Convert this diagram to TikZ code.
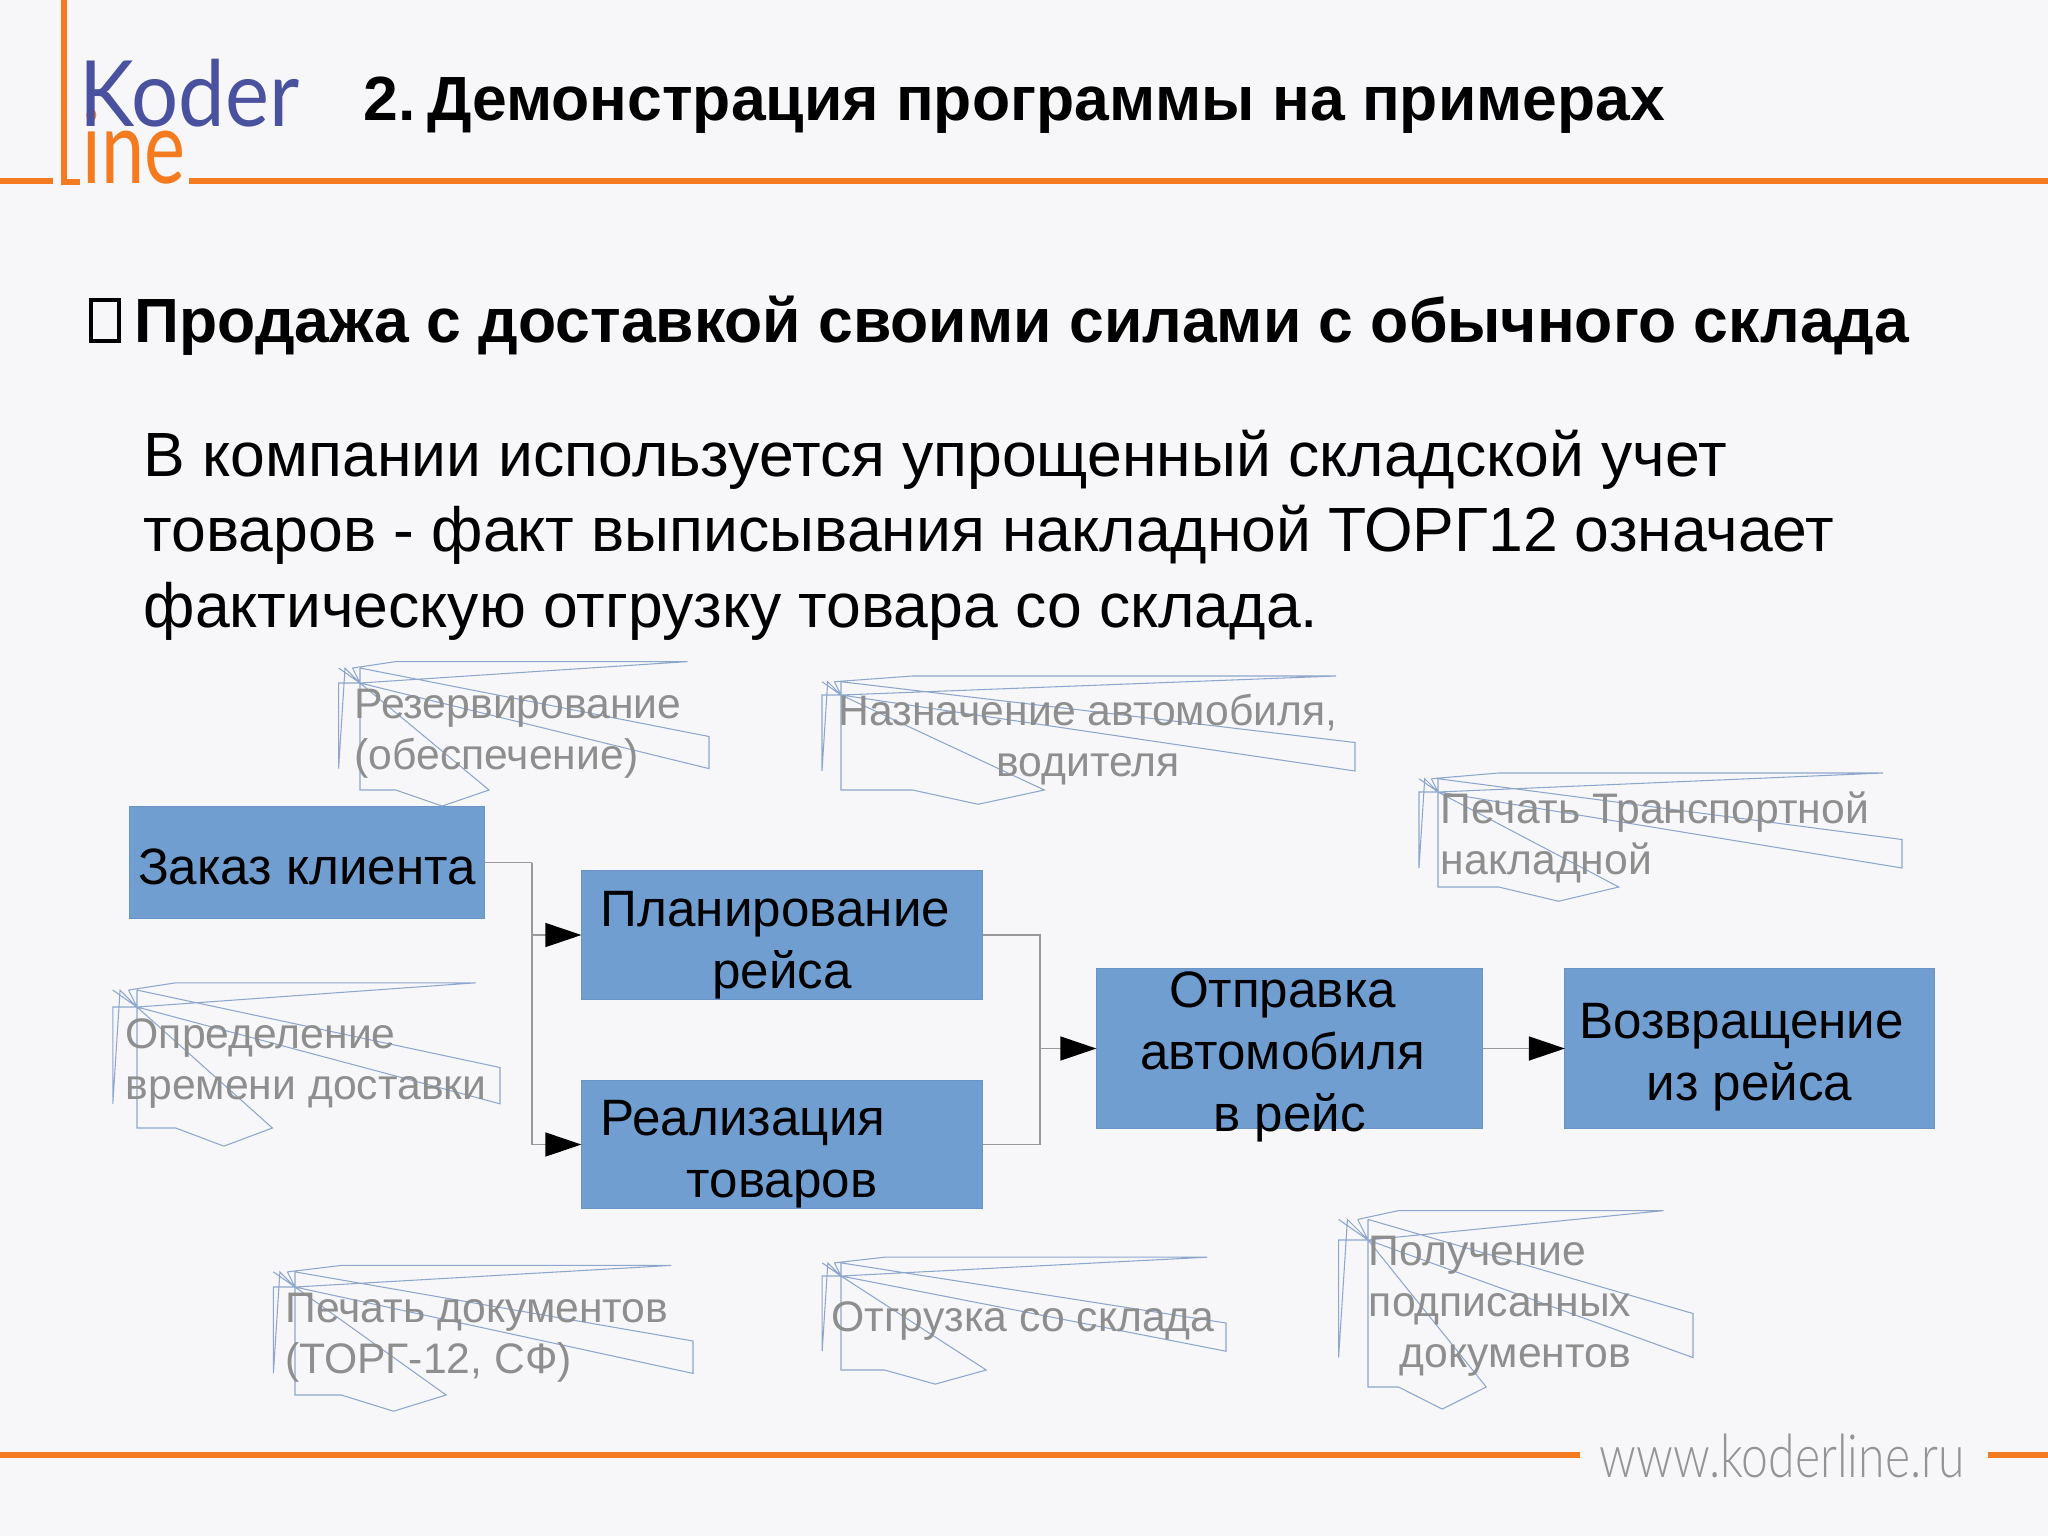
\documentclass[tikz,border=0pt]{standalone}
\usepackage{fontspec}
\usepackage{tikz}
\usetikzlibrary{arrows.meta}
\setmainfont{Liberation Sans}
\newfontfamily\logofont{Lato}
\newfontfamily\urlfont{Lato Light}

\definecolor{pagebg}{HTML}{F7F7F9}
\definecolor{logoorange}{HTML}{F47B20}
\definecolor{logoblue}{HTML}{4A519F}
\definecolor{boxblue}{HTML}{709ED1}
\definecolor{boxedge}{HTML}{6A94C6}
\definecolor{tornblue}{HTML}{8FA6CC}
\definecolor{fadedtext}{HTML}{8E8E8E}

\tikzset{
    orangeline/.style={draw=logoorange, line width=1.7pt},
    stepbox/.style={fill=boxblue, draw=boxedge, line width=0.3pt, outer sep=0pt},
    steptext/.style={align=center, inner sep=0pt, font=\fontsize{14.55pt}{17.6pt}\selectfont},
    fadedlabel/.style={fadedtext, inner sep=0pt, font=\fontsize{12.14pt}{14.5pt}\selectfont},
    flowline/.style={draw=black!40, line width=0.4pt},
    flowarrow/.style={flowline, -{Triangle[length=3.6mm,width=2.4mm,color=black,fill=black]}},
    tornline/.style={draw=tornblue, line width=0.3pt}
}

% tip x, tip y, width, height of a broken call-out
\newcommand{\tornbox}[4]{
    \pgfmathsetmacro{\upy}{#2-0.14*#4}
    \pgfmathsetmacro{\topy}{#2-0.2*#4}
    \pgfmathsetmacro{\lowy}{#2+#4}
    \pgfmathsetmacro{\noty}{#2+1.15*#4}
    \pgfmathsetmacro{\rx}{#1+#3}
    \pgfmathsetmacro{\lx}{#1-0.2*#4}
    \pgfmathsetmacro{\lxb}{#1-0.14*#4}
    \pgfmathsetmacro{\lxc}{#1-0.07*#4}
    \pgfmathsetmacro{\xa}{#1+0.217*#3-40}
    \pgfmathsetmacro{\xb}{#1+0.333*#3-34}
    \pgfmathsetmacro{\xc}{#1+0.45*#3-28}
    \draw[tornline] (\lx,\upy) -- (#1,#2)
        (\lx,#2+0.8*#4) -- (\lxb,\upy) -- (#1,#2)
        (\lx,#2+0.8*#4) -- (\lx,#2) -- (#1,#2)
        (\lxc,\upy) -- (#1,#2)
        (\lxc,\upy) -- (\xa,\topy) -- (\rx-0.2*#4,\topy) -- (#1,#2)
        (#1,\upy) -- (\rx,#2+0.5*#4) -- (\rx,#2+0.8*#4) -- (#1,#2)
        (#1,\upy) -- (#1,\lowy) -- (\xa,\lowy) -- (\xb,\noty) -- (\xc,\lowy) -- (#1,#2);
}

\begin{document}
\begin{tikzpicture}[x=0.01cm,y=-0.01cm]
    \useasboundingbox (0,0) rectangle (2048,1536);
    \fill[pagebg] (0,0) rectangle (2048,1536);

    % Draw the logo and the orange rules
    \draw[orangeline] (0,181) -- (53,181);
    \draw[orangeline] (189,181) -- (2048,181);
    \draw[orangeline] (64,0) -- (64,182) -- (80,182);
    \node[anchor=base west, inner sep=0pt, text=logoorange, xscale=0.76, transform shape,
        font=\logofont\fontsize{29pt}{29pt}\selectfont] (logoline) at (82,183) {ine};
    \node[anchor=base west, inner sep=0pt, text=logoblue, xscale=0.91, transform shape,
        font=\logofont\fontsize{26pt}{26pt}\selectfont] (logokoder) at (79,126) {Koder};
    \draw[orangeline] (0,1455) -- (1580,1455);
    \draw[orangeline] (1988,1455) -- (2048,1455);
    \node[anchor=base west, inner sep=0pt, text=black!42, xscale=0.805, transform shape,
        font=\urlfont\fontsize{17pt}{17pt}\selectfont] (siteurl) at (1599,1477) {www.koderline.ru};

    % Draw the headings and the paragraph
    \node[anchor=base west, inner sep=0pt, font=\bfseries\fontsize{17.76pt}{20pt}\selectfont] (slidetitle) at (363,120) {2.\hspace{3.2pt}Демонстрация программы на примерах};
    \node[draw, line width=1pt, minimum width=0.28cm, minimum height=0.41cm, inner sep=0pt] (bullet) at (105,320.5) {};
    \node[anchor=base west, inner sep=0pt, font=\bfseries\fontsize{17.76pt}{20pt}\selectfont] (subtitle) at (134,342) {Продажа с доставкой своими силами с обычного склада};
    \node[anchor=north west, inner sep=0pt, align=left, font=\fontsize{17.76pt}{21.4pt}\selectfont] (paragraph) at (143,429.5) {В компании используется упрощенный складской учет\\товаров - факт выписывания накладной ТОРГ12 означает\\фактическую отгрузку товара со склада.};

    % Draw the process boxes
    \node[stepbox, minimum width=3.54cm, minimum height=1.12cm] (zakaz) at (307,862.5) {};
    \node[steptext] (zakaztext) at (307,866.5) {Заказ клиента};
    \node[stepbox, minimum width=4.01cm, minimum height=1.29cm] (plan) at (782,935) {};
    \node[steptext] (plantext) at (782,945) {Планирование\hspace*{0.13cm}\\рейса};
    \node[stepbox, minimum width=4.01cm, minimum height=1.28cm] (realiz) at (782,1144.5) {};
    \node[steptext] (realiztext) at (782,1154) {Реализация\hspace*{0.78cm}\\товаров};
    \node[stepbox, minimum width=3.86cm, minimum height=1.60cm] (otpravka) at (1289.5,1048.5) {};
    \node[steptext] (otpravkatext) at (1289.5,1057) {Отправка\hspace*{0.14cm}\\автомобиля\hspace*{0.14cm}\mbox{}\\в рейс};
    \node[stepbox, minimum width=3.69cm, minimum height=1.60cm] (vozvrat) at (1749.5,1048.5) {};
    \node[steptext] (vozvrattext) at (1749.5,1057.5) {Возвращение\hspace*{0.16cm}\\из рейса};

    % Draw the connectors
    \coordinate (joinleft) at (532,862.5);
    \coordinate (joinright) at (1040,1048.5);
    \draw[flowline] (zakaz.east) -- (joinleft);
    \draw[flowarrow] (joinleft) |- (plan.west);
    \draw[flowarrow] (joinleft) |- (realiz.west);
    \draw[flowline] (plan.east) -| (joinright);
    \draw[flowline] (realiz.east) -| (joinright);
    \draw[flowarrow] (joinright) -- (otpravka.west);
    \draw[flowarrow] (otpravka.east) -- (vozvrat.west);

    % Draw the broken call-outs
    \tornbox{360}{683}{349}{107}
    \tornbox{841}{695}{514}{95}
    \tornbox{1438}{792}{464}{95}
    \tornbox{137}{1007}{363}{121}
    \tornbox{295}{1287}{398}{108}
    \tornbox{841}{1276}{385}{94}
    \tornbox{1368}{1240}{325}{147}

    % Draw the call-out labels
    \node[fadedlabel, align=left] (rezerv) at (518,734) {Резервирование\\(обеспечение)};
    \node[fadedlabel, align=center] (naznach) at (1088,740) {Назначение автомобиля,\\водителя};
    \node[fadedlabel, align=left] (pechtrans) at (1655,837) {Печать Транспортной\\накладной};
    \node[fadedlabel, align=left] (opredel) at (306,1064) {Определение\\времени доставки};
    \node[fadedlabel, align=left] (pechdoc) at (477,1338) {Печать документов\\(ТОРГ-12, СФ)};
    \node[fadedlabel] (otgruz) at (1023,1321) {Отгрузка со склада};
    \node[fadedlabel, align=left] (poluch) at (1500,1306) {Получение\\подписанных\\\hspace*{0.31cm}документов};
\end{tikzpicture}
\end{document}
